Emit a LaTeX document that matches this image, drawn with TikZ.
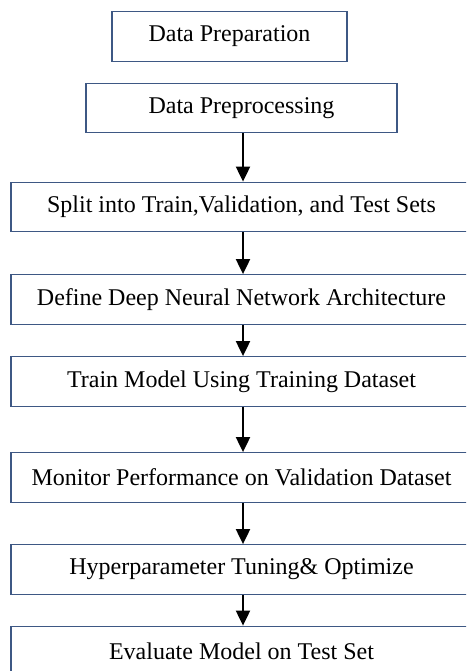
\documentclass[tikz,border=0pt]{standalone}
\usepackage{fontspec}
\setmainfont{Liberation Serif}
\usetikzlibrary{arrows.meta}
\definecolor{boxline}{RGB}{62,88,132}
\tikzset{
  stepbox/.style={draw=boxline, line width=1.3pt, rectangle, inner sep=0pt,
    minimum height=49.5pt, font=\fontsize{24}{28}\selectfont, text=black},
  flowarrow/.style={draw=black, line width=2pt,
    -{Triangle[length=15pt, width=14pt]}}
}
\begin{document}
\begin{tikzpicture}[x=1pt, y=-1pt]
\useasboundingbox (0,0) rectangle (466,671);
\clip (0,0) rectangle (466,671);
\node[stepbox, minimum width=235pt] (b1) at (229.5,36.5) {Data Preparation};
\node[stepbox, minimum width=311pt] (b2) at (241.5,108) {Data Preprocessing};
\node[stepbox, minimum width=461pt] (b3) at (241.5,207) {Split into Train,Validation, and Test Sets};
\node[stepbox, minimum width=461pt] (b4) at (241.5,299.5) {Define Deep Neural Network Architecture};
\node[stepbox, minimum width=461pt] (b5) at (241.5,381.5) {Train Model Using Training Dataset};
\node[stepbox, minimum width=461pt] (b6) at (241.5,477.5) {Monitor Performance on Validation Dataset};
\node[stepbox, minimum width=461pt] (b7) at (241.5,569.5) {Hyperparameter Tuning\& Optimize};
\node[stepbox, minimum width=461pt] (b8) at (241.5,651) {Evaluate Model on Test Set};
\draw[flowarrow] ([xshift=1.5pt]b2.south) -- ([xshift=1.5pt]b3.north);
\draw[flowarrow] ([xshift=1.5pt]b3.south) -- ([xshift=1.5pt]b4.north);
\draw[flowarrow] ([xshift=1.5pt]b4.south) -- ([xshift=1.5pt]b5.north);
\draw[flowarrow] ([xshift=1.5pt]b5.south) -- ([xshift=1.5pt]b6.north);
\draw[flowarrow] ([xshift=1.5pt]b6.south) -- ([xshift=1.5pt]b7.north);
\draw[flowarrow] ([xshift=1.5pt]b7.south) -- ([xshift=1.5pt]b8.north);
\end{tikzpicture}
\end{document}
